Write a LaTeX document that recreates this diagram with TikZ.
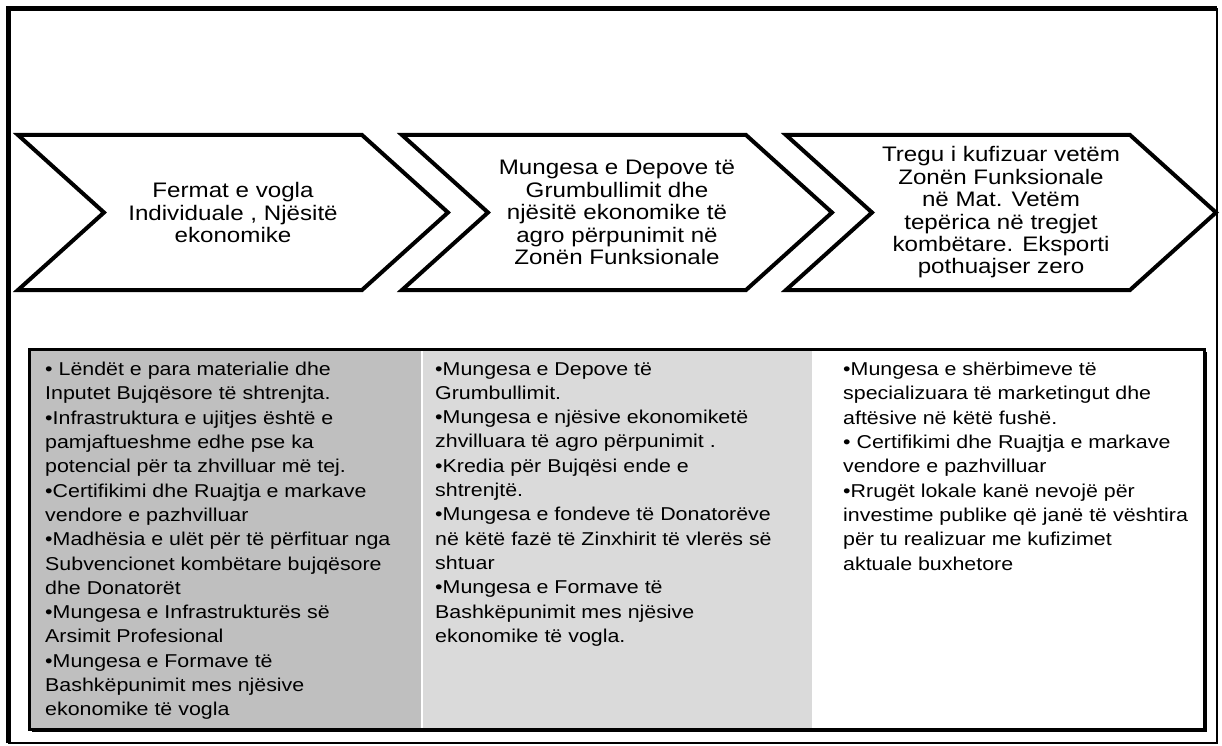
\documentclass[tikz,border=0pt]{standalone}
\usepackage{fontspec}
\setmainfont[FakeStretch=1.15]{Liberation Sans}
\definecolor{darkcell}{RGB}{191,191,191}
\definecolor{lightcell}{RGB}{218,218,218}

\begin{document}
\begin{tikzpicture}[x=1pt,y=-1pt,
	chevtext/.style={align=center,inner sep=0pt,font=\fontsize{21}{22.4}\selectfont},
	celltext/.style={anchor=north west,align=left,inner sep=0pt,font=\fontsize{18.6}{24.3}\selectfont}]
	\useasboundingbox (0,0) rectangle (1222,746);
	% outer frame
	\draw[line width=1.2pt] (8.5,8.5) rectangle (1217,743);
	\draw[line width=5pt] (8.5,743) -- (8.5,8.5) -- (1217,8.5);
	% chevrons
	\foreach \x in {18,402,786}
		\draw[line width=4pt,fill=white] (\x,135) -- ++(344,0) -- ++(86,77.5) -- ++(-86,77.5) -- ++(-344,0) -- ++(86,-77.5) -- cycle;
	\node[chevtext] (farms) at (233,212.5) {Fermat e vogla\\Individuale , Njësitë\\ekonomike};
	\node[chevtext] (storage) at (617,212.5) {Mungesa e Depove të\\Grumbullimit dhe\\njësitë ekonomike të\\agro përpunimit në\\Zonën Funksionale};
	\node[chevtext] (market) at (1001,212.5) {Tregu i kufizuar vetëm\\Zonën Funksionale\\në Mat. Vetëm\\tepërica në tregjet\\kombëtare. Eksporti\\pothuajser zero};
	% table
	\fill[white] (29,349) rectangle (1204,729);
	\fill[darkcell] (29,349) rectangle (421,729);
	\fill[lightcell] (423,349) rectangle (812,729);
	\draw[line width=3pt] (29,349) rectangle (1204,729);
	\draw[line width=2.5pt] (1206,352) -- (1206,731) -- (32,731);
	\node[celltext] (gapsfarms) at (45,362) {• Lëndët e para materialie dhe\\Inputet Bujqësore të shtrenjta.\\•Infrastruktura e ujitjes është e\\pamjaftueshme edhe pse ka\\potencial për ta zhvilluar më tej.\\•Certifikimi dhe Ruajtja e markave\\vendore e pazhvilluar\\•Madhësia e ulët për të përfituar nga\\Subvencionet kombëtare bujqësore\\dhe Donatorët\\•Mungesa e Infrastrukturës së\\Arsimit Profesional\\•Mungesa e Formave të\\Bashkëpunimit mes njësive\\ekonomike të vogla};
	\node[celltext] (gapsstorage) at (435,362) {•Mungesa e Depove të\\Grumbullimit.\\•Mungesa e njësive ekonomiketë\\zhvilluara të agro përpunimit .\\•Kredia për Bujqësi ende e\\shtrenjtë.\\•Mungesa e fondeve të Donatorëve\\në këtë fazë të Zinxhirit të vlerës së\\shtuar\\•Mungesa e Formave të\\Bashkëpunimit mes njësive\\ekonomike të vogla.};
	\node[celltext] (gapsmarket) at (843,362) {•Mungesa e shërbimeve të\\specializuara të marketingut dhe\\aftësive në këtë fushë.\\• Certifikimi dhe Ruajtja e markave\\vendore e pazhvilluar\\•Rrugët lokale kanë nevojë për\\investime publike që janë të vështira\\për tu realizuar me kufizimet\\aktuale buxhetore};
\end{tikzpicture}
\end{document}
